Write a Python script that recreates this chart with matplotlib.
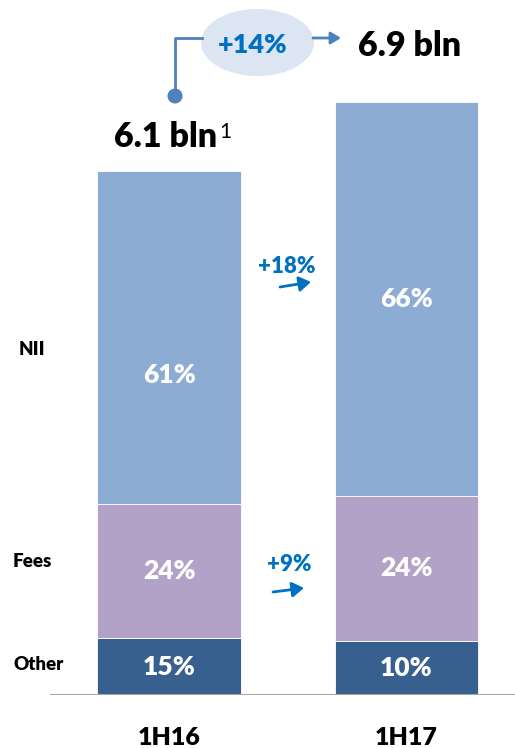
import matplotlib
matplotlib.use("Agg")
import matplotlib.pyplot as plt
from matplotlib.patches import Ellipse, FancyArrowPatch
from matplotlib.lines import Line2D

# ---------------- data ----------------
periods = ["1H16", "1H17"]
totals = [6.1, 6.9]                      # bln
segments = ["Other", "Fees", "NII"]
seg_values = {                            # bln
    "Other": [0.66, 0.63],
    "Fees": [1.56, 1.69],
    "NII": [3.88, 4.58],
}
seg_shares = {
    "Other": ["15%", "10%"],
    "Fees": ["24%", "24%"],
    "NII": ["61%", "66%"],
}
total_labels = ["6.1 bln", "6.9 bln"]
total_growth = "+14%"
seg_growth = {"NII": "+18%", "Fees": "+9%"}

# ---------------- style ----------------
colors = {"Other": "#37608f", "Fees": "#b3a2c7", "NII": "#8cacd3"}
BLUE = "#0070c0"
LINEBLUE = "#4f81bd"
FONT = "Lato"
WT = "heavy"

W, H = 515, 748
fig = plt.figure(figsize=(W / 100, H / 100), dpi=100)
fig.patch.set_facecolor("white")


def fx(x):
    return x / W


def fy(y):
    return 1 - y / H


base_px = 695
ax = fig.add_axes([0, (H - base_px) / H, 1, base_px / H])
scale = 524 / 6.1  # px per bln
ax.set_ylim(0, base_px / scale)
spacing = 237.5
c0 = 169
ax.set_xlim(-c0 / spacing, (W - c0) / spacing)
ax.axis("off")

x = list(range(len(periods)))
bottom = [0.0] * len(periods)
label_offsets = {("NII", 0): -37}
for seg in segments:
    vals = seg_values[seg]
    ax.bar(x, vals, width=0.605, bottom=bottom, color=colors[seg],
           edgecolor="white", linewidth=0.6, zorder=2)
    for i, v in enumerate(vals):
        yc = bottom[i] + v / 2
        off = label_offsets.get((seg, i), 0)
        ax.annotate(seg_shares[seg][i], (x[i], yc), xytext=(0, off * 0.72),
                    textcoords="offset points", ha="center", va="center",
                    color="white", fontsize=19, fontweight=WT,
                    family=FONT, zorder=3)
    bottom = [b + v for b, v in zip(bottom, vals)]

# baseline
ax.axhline(0, xmin=51 / W, xmax=1, color="#a6a6a6", lw=2.2, zorder=4)

# category labels
for i, p in enumerate(periods):
    fig.text(fx([169, 406][i]), fy(745), p, ha="center", va="baseline",
             fontsize=18, fontweight=WT, family=FONT, color="black")

# segment names on left
for name, ypx in [("NII", 355), ("Fees", 567), ("Other", 670)]:
    fig.text(fx(13 if name != "NII" else 19), fy(ypx), name, ha="left",
             va="baseline", fontsize=13.5, fontweight=WT, family=FONT,
             color="black")

# totals
t0 = fig.text(fx(114), fy(147), total_labels[0], ha="left", va="baseline",
              fontsize=24.5, fontweight=WT, family=FONT, color="black")
ax.annotate("1", xy=(1, 0), xycoords=t0, xytext=(1.5, 10.5),
            textcoords="offset points", ha="left", va="baseline",
            fontsize=15, family=FONT, color="black")
fig.text(fx(358), fy(56), total_labels[1], ha="left", va="baseline",
         fontsize=24.5, fontweight=WT, family=FONT, color="black")

# connector with ellipse
fig.add_artist(Line2D([fx(175), fx(175), fx(202)], [fy(96), fy(38), fy(38)],
                      color=LINEBLUE, lw=2, transform=fig.transFigure))
fig.add_artist(Ellipse((fx(257.5), fy(42.5)), 113 / W, 67 / H,
                       facecolor="#dce6f2", edgecolor="none",
                       transform=fig.transFigure))
fig.add_artist(Ellipse((fx(175), fy(96)), 15 / W, 15 / H, facecolor=LINEBLUE,
                       edgecolor="none", transform=fig.transFigure))
fig.text(fx(253), fy(45), total_growth, ha="center", va="center",
         fontsize=19.5, fontweight=WT, family=FONT, color=BLUE)
fig.add_artist(FancyArrowPatch((fx(313), fy(38)), (fx(341), fy(38)),
                               arrowstyle="-|>,head_length=6,head_width=3.6",
                               color=LINEBLUE, lw=2,
                               transform=fig.transFigure,
                               shrinkA=0, shrinkB=0))

# segment growth
for name, txy, a0, a1 in [("NII", (287, 273), (280, 287), (311, 282)),
                          ("Fees", (289, 571), (273, 592), (304, 588))]:
    fig.text(fx(txy[0]), fy(txy[1]), seg_growth[name], ha="center",
             va="baseline", fontsize=16, fontweight=WT, family=FONT,
             color=BLUE)
    fig.add_artist(FancyArrowPatch((fx(a0[0]), fy(a0[1])),
                                   (fx(a1[0]), fy(a1[1])),
                                   arrowstyle="-|>,head_length=7,head_width=4.5",
                                   color=BLUE, lw=2,
                                   transform=fig.transFigure,
                                   shrinkA=0, shrinkB=0))

fig.savefig("out.png", dpi=100, facecolor="white")
